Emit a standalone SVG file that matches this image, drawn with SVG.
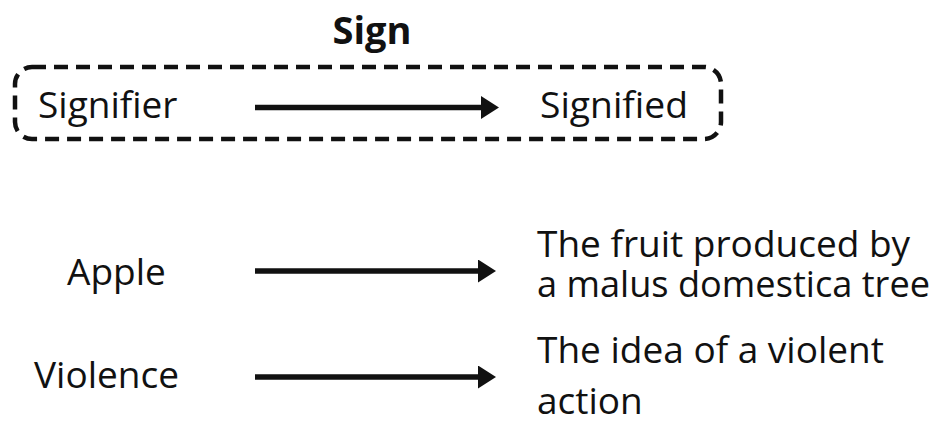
<svg xmlns="http://www.w3.org/2000/svg" width="935" height="421" viewBox="0 0 935 421">
  <style>
    text { font-family: "Open Sans", "Noto Sans", "Liberation Sans", sans-serif; fill: #111; }
    .lbl { font-size: 37px; }
    .title { font-size: 38px; font-weight: bold; }
    .link { stroke: #111; stroke-width: 5.5; fill: none; marker-end: url(#head); }
    .frame { fill: none; stroke: #111; stroke-width: 4.5; stroke-dasharray: 14 8; }
  </style>
  <defs>
    <marker id="head" viewBox="0 0 18 23" refX="0" refY="11.5" markerWidth="18" markerHeight="23" markerUnits="userSpaceOnUse" orient="auto">
      <path d="M0,0 L18,11.5 L0,23 Z" fill="#111"/>
    </marker>
  </defs>
  <rect width="935" height="421" fill="#fff"/>

  <g id="sign">
    <text class="title" x="372" y="44" text-anchor="middle">Sign</text>
    <rect class="frame" x="15" y="67" width="706" height="72" rx="17" ry="17"/>
  </g>
  <g id="signifier"><text class="lbl" x="38" y="118">Signifier</text></g>
  <g id="signified"><text class="lbl" x="540" y="118" textLength="148" lengthAdjust="spacingAndGlyphs">Signified</text></g>
  <g id="apple"><text class="lbl" x="67" y="285">Apple</text></g>
  <g id="apple-meaning">
    <text class="lbl" x="537" y="257">The fruit produced by</text>
    <text class="lbl" x="537" y="297" textLength="393" lengthAdjust="spacingAndGlyphs">a malus domestica tree</text>
  </g>
  <g id="violence"><text class="lbl" x="34" y="388">Violence</text></g>
  <g id="violence-meaning">
    <text class="lbl" x="537" y="363">The idea of a violent</text>
    <text class="lbl" x="537" y="414">action</text>
  </g>

  <g id="connectors">
    <line class="link" x1="255" y1="107.5" x2="481" y2="107.5"/>
    <line class="link" x1="255" y1="271" x2="478" y2="271"/>
    <line class="link" x1="255" y1="377" x2="478" y2="377"/>
  </g>
</svg>
